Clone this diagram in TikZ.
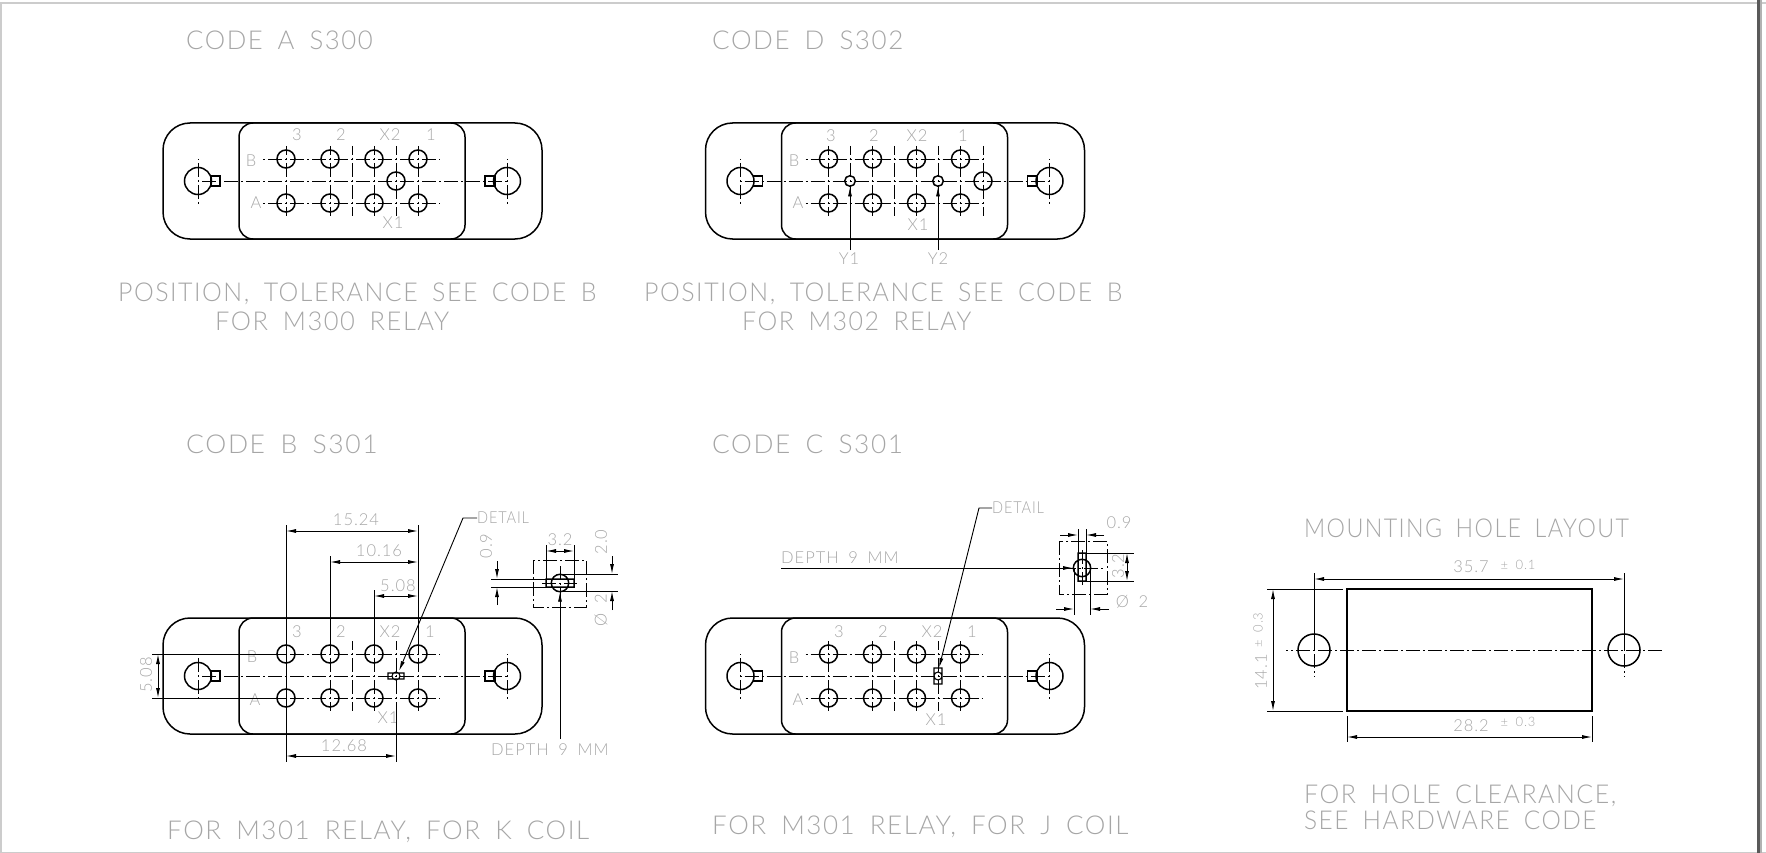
\documentclass[tikz,border=0pt]{standalone}
\usepackage{fontspec}
\newfontfamily\plotfont[UprightFont=* Light, LetterSpace=6, WordSpace=1.75]{Lato}
\usetikzlibrary{arrows.meta, positioning}
\tikzset{
    outline/.style={line width=1.5pt, black},
    axis/.style={line width=0.9pt, black, dash pattern=on 14pt off 3pt on 2pt off 3pt},
    dimline/.style={line width=0.9pt, black},
    tag/.style={font=\plotfont\fontsize{16.5}{16.5}\selectfont, text=black!35, inner sep=0pt},
    tiny/.style={font=\plotfont\fontsize{13}{13}\selectfont, text=black!35, inner sep=0pt},
    title/.style={font=\plotfont\fontsize{26}{26}\selectfont, text=black!35, inner sep=0pt, anchor=west, yshift=-1.5pt},
    pics/relaybody/.style={code={
        \draw[outline, rounded corners=27pt] (163,123) rectangle (542,239);
        \draw[outline, rounded corners=14pt] (239,123) rectangle (465,239);
        % mounting ears
        \draw[outline] (198,181) circle (13.5pt) (507,181) circle (13.5pt);
        \draw[outline] (211,176) rectangle (220,186) (485,176) rectangle (495,186);
        \draw[axis, dash phase=18pt] (198,181) -- (507,181);
        \draw[axis, dash phase=18pt] (198,159) -- (198,205);
        \draw[axis, dash phase=18pt] (507,159) -- (507,205);
        % pin grid
        \foreach \col in {286,330,374,418} {
            \draw[axis, dash phase=5pt] (\col,146) -- (\col,216);
            \draw[outline] (\col,159) circle (9pt) (\col,203) circle (9pt);
        }
        \draw[axis, dash phase=15pt] (261,159) -- (440,159);
        \draw[axis, dash phase=15pt] (261,203) -- (440,203);
        \draw[axis, dash phase=5pt] (352,146) -- (352,216);
        \draw[axis, dash phase=5pt] (396,146) -- (396,216);
    }}
}
\begin{document}
\begin{tikzpicture}[x=1pt, y=-1pt, >={Latex[length=10pt,width=4pt]}]
    \useasboundingbox (0,0) rectangle (1766,853);
    % sheet edge
    \fill[black!20] (0,2) rectangle (1766,4);
    \fill[black!20] (0,2) rectangle (2,853);
    \fill[black!20] (0,852) rectangle (1766,853);
    \fill[black!65] (1757,0) rectangle (1760,853);
    \fill[black!30] (1760,0) rectangle (1762,853);

    % code A
    \node[title, xscale=0.99] (titleA) at (186,39) {CODE A S300};
    \pic at (0,0) {relaybody};
    \draw[outline] (396,181) circle (9pt);
    \foreach \name/\px/\py/\txt in {three/297/135/3, two/341/135/2, xtwo/390/135/X2, one/431/135/1, rowb/251/161/B, rowa/256/203/A, xone/393/223/X1}
        \node[tag] (A-\name) at (\px,\py) {\txt};
    \node[title, xscale=0.96] (noteA) at (118,292) {POSITION, TOLERANCE SEE CODE B};
    \node[title, xscale=0.98] (relayA) at (215,320) {FOR M300 RELAY};

    % code D
    \node[title] (titleD) at (712,39) {CODE D S302};
    \pic at (542.5,0) {relaybody};
    \draw[axis, dash phase=5pt] (850,146) -- (850,216);
    \draw[axis, dash phase=5pt] (983,146) -- (983,216);
    \draw[outline] (983,181) circle (9pt);
    \draw[outline] (850,181) circle (5.3pt) coordinate (holeY1);
    \draw[outline] (938,181) circle (5.3pt) coordinate (holeY2);
    \foreach \name/\px/\py/\txt in {three/831/136/3, two/874/136/2, xtwo/917/136/X2, one/963/136/1, rowb/794/161/B, rowa/798/203/A, xone/918/225/X1}
        \node[tag] (D-\name) at (\px,\py) {\txt};
    \node[tag] (Y1) at (849,259) {Y1};
    \node[tag] (Y2) at (938,259) {Y2};
    \draw[dimline, ->] (850,250) -- (850,186.5);
    \draw[dimline, ->] (938,250) -- (938,186.5);
    \node[title, xscale=0.96] (noteD) at (644,292) {POSITION, TOLERANCE SEE CODE B};
    \node[title, xscale=0.96] (relayD) at (742,320) {FOR M302 RELAY};

    % code B
    \node[title, xscale=1.02] (titleB) at (186,443) {CODE B S301};
    \pic at (0,495) {relaybody};
    \draw[outline, line width=1.1pt] (396,676) circle (4pt) (388,673) rectangle (404,679);
    \foreach \name/\px/\py/\txt in {three/297/632/3, two/341/632/2, xtwo/390/632/X2, one/430/632/1, rowb/252/657/B, rowa/255/700/A, xone/388/718/X1}
        \node[tag] (B-\name) at (\px,\py) {\txt};
    \draw[dimline] (286,525) -- (286,762) (330,556) -- (330,654) (374,590) -- (374,654) (418,525) -- (418,654) (396,711) -- (396,762);
    \draw[dimline, <->] (286,531) -- (418,531);
    \draw[dimline, <->] (330,562) -- (418,562);
    \draw[dimline, <->] (374,596) -- (418,596);
    \draw[dimline, <->] (286,756) -- (396,756);
    \draw[dimline] (152,654) -- (286,654) (152,698) -- (286,698);
    \draw[dimline, <->] (158,654) -- (158,698);
    \node[tag] (dimB1) at (356,520) {15.24};
    \node[tag] (dimB2) at (379,551) {10.16};
    \node[tag] (dimB3) at (398,586) {5.08};
    \node[tag] (dimB4) at (344,746) {12.68};
    \node[tag, rotate=90] (dimB5) at (146,675) {5.08};
    \node[tag, anchor=west, xscale=0.88] (detailB) at (477,518) {DETAIL};
    \draw[dimline, ->] (detailB.west) -- (463,518) -- (399,671);
    % code B, detail
    \draw[axis] (533,560) rectangle (586,607);
    \draw[outline] (560,583) circle (8.7pt) (546,579) -- (546,587) -- (574,587) -- (574,579) -- cycle;
    \draw[axis] (542,583) -- (577,583) (560,566) -- (560,600);
    \draw[dimline] (546,545) -- (546,583) (574,545) -- (574,583);
    \draw[dimline, <->] (546,551) -- (574,551);
    \node[tag] (dimB6) at (560,540) {3.2};
    \draw[dimline] (491,579) -- (546,579) (491,587) -- (546,587);
    \draw[dimline, ->] (497,561) -- (497,579);
    \draw[dimline, ->] (497,605) -- (497,587);
    \node[tag, rotate=90] (dimB7) at (486,546) {0.9};
    \draw[dimline] (560,574) -- (618,574) (560,591) -- (618,591);
    \draw[dimline, ->] (612,556) -- (612,574);
    \draw[dimline, ->] (612,610) -- (612,591);
    \node[tag, rotate=90] (dimB8) at (601,542) {2.0};
    \node[tag, rotate=90] (dimB9) at (601,610) {Ø 2};
    \node[tag, anchor=west] (depthB) at (491,750) {DEPTH 9 MM};
    \draw[dimline, ->] (560,739) -- (560,591.7);
    \node[title] (relayB) at (167,830) {FOR M301 RELAY, FOR K COIL};

    % code C
    \node[title, xscale=1.01] (titleC) at (712,443) {CODE C S301};
    \pic at (542.5,495) {relaybody};
    \draw[outline, line width=1.1pt] (938,676) circle (4pt) (934,668) rectangle (942,684);
    \foreach \name/\px/\py/\txt in {three/839/632/3, two/883/632/2, xtwo/932/632/X2, one/972/632/1, rowb/794/658/B, rowa/798/700/A, xone/936/720/X1}
        \node[tag] (C-\name) at (\px,\py) {\txt};
    \node[tag, anchor=west, xscale=0.88] (detailC) at (992,508) {DETAIL};
    \draw[dimline, ->] (detailC.west) -- (979,508) -- (939,668);
    % code C, detail
    \draw[axis] (1059,541) rectangle (1107,594);
    \draw[outline] (1082,568) circle (8.7pt) (1078,553) rectangle (1086,581);
    \draw[axis] (1062,568) -- (1104,568) (1082,550) -- (1082,585);
    \node[tag, anchor=west] (depthC) at (781,558) {DEPTH 9 MM};
    \draw[dimline, ->] (781,568) -- (1073,568);
    \draw[dimline] (1078,529) -- (1078,553) (1086,529) -- (1086,553);
    \draw[dimline, ->] (1060,535) -- (1078,535);
    \draw[dimline, ->] (1104,535) -- (1086,535);
    \node[tag] (dimC1) at (1119,523) {0.9};
    \draw[dimline] (1086,553) -- (1134,553) (1086,581) -- (1134,581);
    \draw[dimline, <->] (1127,553) -- (1127,581);
    \node[tag, rotate=90] (dimC2) at (1118,566) {3.2};
    \draw[dimline] (1074,568) -- (1074,615) (1090,568) -- (1090,615);
    \draw[dimline, ->] (1056,609) -- (1074,609);
    \draw[dimline, ->] (1109,609) -- (1090,609);
    \node[tag] (dimC3) at (1132,602) {Ø 2};
    \node[title] (relayC) at (712,825) {FOR M301 RELAY, FOR J COIL};

    % mounting hole layout
    \node[title, xscale=0.895] (titleM) at (1304,527) {MOUNTING HOLE LAYOUT};
    \draw[outline] (1347,589) rectangle (1592,711);
    \draw[outline] (1314,650) circle (16pt) (1624,650) circle (16pt);
    \draw[axis, dash phase=12pt] (1286,650) -- (1663,650);
    \draw[axis, dash phase=18pt] (1314,650) -- (1314,677) (1624,650) -- (1624,677);
    \draw[dimline] (1314,573) -- (1314,650) (1624,573) -- (1624,650);
    \draw[dimline, <->] (1314,579) -- (1624,579);
    \node[tag] (dimM1) at (1471,567) {35.7};
    \node[tiny] (tolM1) at (1518,565) {± 0.1};
    \draw[dimline] (1267,589) -- (1343,589) (1267,711) -- (1343,711);
    \draw[dimline, <->] (1273,589) -- (1273,711);
    \node[tag, rotate=90] (dimM2) at (1261,672) {14.1};
    \node[tiny, rotate=90] (tolM2) at (1258,630) {± 0.3};
    \draw[dimline] (1347,716) -- (1347,742) (1592,716) -- (1592,742);
    \draw[dimline, <->] (1347,737) -- (1592,737);
    \node[tag] (dimM3) at (1471,726) {28.2};
    \node[tiny] (tolM3) at (1518,722) {± 0.3};
    \node[title, xscale=0.96] (noteM1) at (1304,794) {FOR HOLE CLEARANCE,};
    \node[title, xscale=0.94] (noteM2) at (1304,819) {SEE HARDWARE CODE};
\end{tikzpicture}
\end{document}
